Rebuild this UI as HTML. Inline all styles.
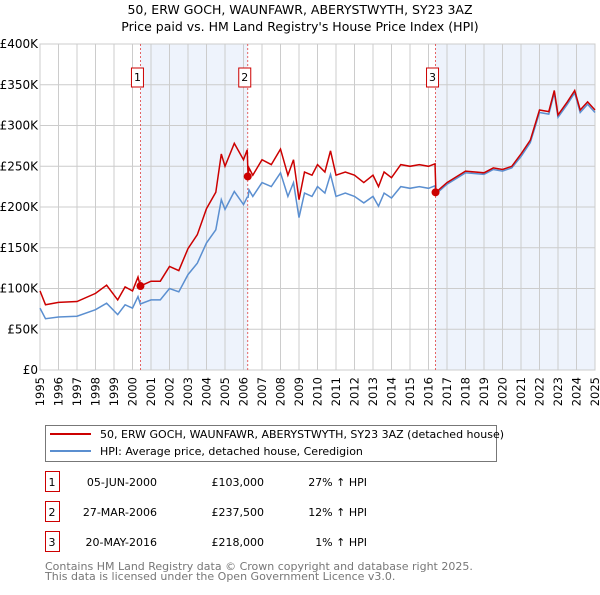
<!DOCTYPE html>
<html><head><meta charset="utf-8"><style>
body{margin:0;background:#fff;font-family:"Liberation Sans","DejaVu Sans",sans-serif;}
svg text{font-family:"DejaVu Sans","Liberation Sans",sans-serif;}
</style></head><body>
<svg id="c" width="600" height="590" xmlns="http://www.w3.org/2000/svg">
<text x="300" y="14" text-anchor="middle" font-size="12.5">50, ERW GOCH, WAUNFAWR, ABERYSTWYTH, SY23 3AZ</text>
<text x="300" y="31" text-anchor="middle" font-size="12.5">Price paid vs. HM Land Registry's House Price Index (HPI)</text>
<g id="plot"></g>
<rect x="45.5" y="425.5" width="451" height="36" fill="#fff" stroke="#777"/>
<line x1="50" y1="434" x2="91" y2="434" stroke="#cc0000" stroke-width="2"/>
<text x="100" y="438" font-size="11">50, ERW GOCH, WAUNFAWR, ABERYSTWYTH, SY23 3AZ (detached house)</text>
<line x1="50" y1="451" x2="91" y2="451" stroke="#5b8fd0" stroke-width="2"/>
<text x="100" y="455" font-size="11">HPI: Average price, detached house, Ceredigion</text>
<g id="tbl" font-size="11"></g>
<text x="45" y="570" font-size="11" fill="#777">Contains HM Land Registry data © Crown copyright and database right 2025.</text>
<text x="45" y="580" font-size="11" fill="#777">This data is licensed under the Open Government Licence v3.0.</text>
</svg>
<script>
const hpiYears=[1995,1995.3,1996,1997,1998,1998.6,1999.2,1999.6,2000,2000.3,2000.42,2001,2001.5,2002,2002.5,2003,2003.5,2004,2004.5,2004.8,2005,2005.5,2006,2006.2,2006.25,2006.3,2006.5,2007,2007.5,2008,2008.4,2008.7,2009,2009.3,2009.7,2010,2010.4,2010.7,2011,2011.5,2012,2012.5,2013,2013.3,2013.6,2014,2014.5,2015,2015.5,2016,2016.35,2016.4,2017,2018,2019,2019.5,2020,2020.5,2021,2021.5,2022,2022.5,2022.8,2023,2023.5,2023.9,2024.2,2024.6,2025];
const hpiValues=[76,63,65,66,74,82,68,80,76,90,81,86,86,100,96,117,131,156,172,209,197,219,203,212,212,221,213,230,225,242,213,230,187,217,213,225,217,240,213,217,213,205,213,201,217,211,225,223,225,223,226,216,228,242,240,246,244,248,262,279,316,314,340,310,326,340,316,326,316];
const priceValues=[97,80,83,84,94,104,86,102,97,114,103,109,109,127,122,149,166,198,218,265,250,278,258,270,237.5,248,239,258,252,271,239,258,209,243,239,252,243,269,239,243,239,230,239,225,243,236,252,250,252,250,253,218,230,244,242,248,246,250,265,282,319,317,343,313,329,343,319,329,319];
const saleYears=[2000.43,2006.23,2016.38];
const salePrices=[103,237.5,218];
const saleLabels=["1","2","3"];
const saleDates=["05-JUN-2000","27-MAR-2006","20-MAY-2016"];
const salePriceText=["£103,000","£237,500","£218,000"];
const saleHpiText=["27% ↑ HPI","12% ↑ HPI","1% ↑ HPI"];
const yTicks=[0,50,100,150,200,250,300,350,400];
const yTickLabels=["£0","£50K","£100K","£150K","£200K","£250K","£300K","£350K","£400K"];
const xTicks=[1995,1996,1997,1998,1999,2000,2001,2002,2003,2004,2005,2006,2007,2008,2009,2010,2011,2012,2013,2014,2015,2016,2017,2018,2019,2020,2021,2022,2023,2024,2025];

const X0=40,X1=595,Y0=370,Y1=44;
const xs=y=>X0+(y-1995)/30*(X1-X0);
const ys=v=>Y0-v/400*(Y0-Y1);
const NS="http://www.w3.org/2000/svg";
const plot=document.getElementById('plot');
function mk(t,a,p){const e=document.createElementNS(NS,t);for(const k in a)e.setAttribute(k,a[k]);(p||plot).appendChild(e);return e;}
const sh1=mk('rect',{x:xs(saleYears[0]),y:Y1,width:xs(saleYears[1])-xs(saleYears[0]),height:Y0-Y1,fill:'#eef3fc'});


const sh2=mk('rect',{x:xs(saleYears[2]),y:Y1,width:X1-xs(saleYears[2]),height:Y0-Y1,fill:'#eef3fc'});


xTicks.forEach((t,i)=>{
 const l=mk('line',{x1:xs(t),x2:xs(t),y1:Y1,y2:Y0,stroke:'#ccc'});
 
 
 const tx=mk('text',{x:0,y:0,'font-size':11.5,'text-anchor':'end',transform:`translate(${xs(t)+4},${Y0+7}) rotate(-90)`});
 tx.textContent=t;
 
 
});
yTicks.forEach((t,i)=>{
 const l=mk('line',{x1:X0,x2:X1,y1:ys(t),y2:ys(t),stroke:'#ccc'});
 
 
 const tx=mk('text',{x:X0-2,y:ys(t)+4,'font-size':12,'text-anchor':'end'});
 tx.textContent=yTickLabels[i];
 
 
});
const ax=mk('rect',{x:X0,y:Y1,width:X1-X0,height:Y0-Y1,fill:'none',stroke:'#ccc'});


saleYears.forEach((s,i)=>{
 const l=mk('line',{x1:xs(s),x2:xs(s),y1:Y1,y2:Y0,stroke:'#e04040','stroke-dasharray':'2,2','stroke-width':0.8});
 
 
 const b=mk('rect',{x:xs(s)-9,y:68,width:12,height:19,fill:'#fff',stroke:'#cc0000'});
 
 
 const t=mk('text',{x:xs(s)-3,y:81,'font-size':11,'text-anchor':'middle'});
 t.textContent=saleLabels[i];
 
 
});
const pts=(vals)=>hpiYears.map((y,i)=>xs(y).toFixed(1)+','+ys(vals[i]).toFixed(1)).join(' ');
const hl=mk('polyline',{points:pts(hpiValues),fill:'none',stroke:'#5b8fd0','stroke-width':1.5});


const pl=mk('polyline',{points:pts(priceValues),fill:'none',stroke:'#cc0000','stroke-width':1.5});


saleYears.forEach((s,i)=>{
 const c=mk('circle',{cx:xs(s),cy:ys(salePrices[i]),r:4,fill:'#cc0000'});
 
 
});
const tbl=document.getElementById('tbl');
saleYears.forEach((s,i)=>{
 const y=483+i*30;
 const b=mk('rect',{x:45.5,y:y-11.5,width:14,height:20,fill:'#fff',stroke:'#cc0000'},tbl);
 
 
 const cells=[[52,saleLabels[i],'middle'],[157,saleDates[i],'end'],[264,salePriceText[i],'end'],[367,saleHpiText[i],'end']];
 const names=['table-row-number','table-row-date','table-row-price','table-row-hpi'];
 cells.forEach((c,j)=>{
  const t=mk('text',{x:c[0],y:y+3,'text-anchor':c[2]},tbl);
  t.textContent=c[1];
  
  
 });
});
</script>
</body></html>
